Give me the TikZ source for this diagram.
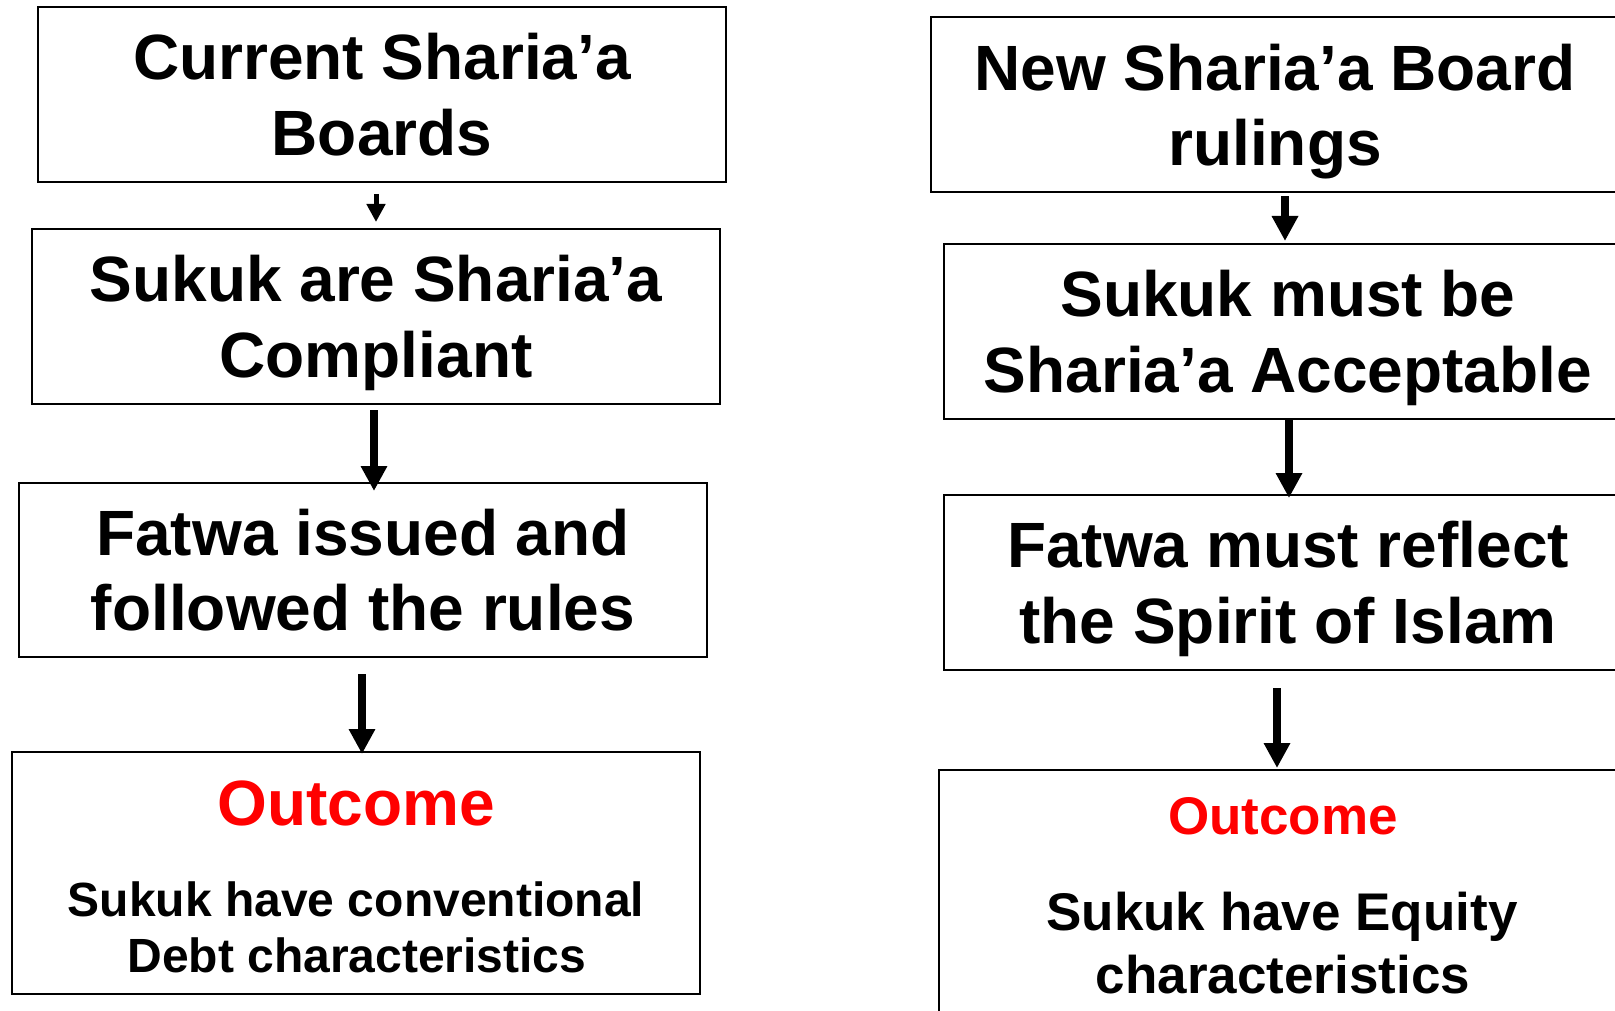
\documentclass[tikz,border=0pt]{standalone}
\usepackage{fontspec}
\setmainfont{Liberation Sans}
\usetikzlibrary{arrows.meta,calc}
\definecolor{outred}{RGB}{255,0,0}
\tikzset{
  box/.style={draw=black, line width=2pt, rectangle, minimum width=688pt, inner sep=0pt,
              align=center, text depth=0pt, font=\fontsize{64}{75.5}\selectfont\bfseries},
  arr/.style={line width=7.5pt, -{Triangle[width=25pt,length=25pt]}},
  thinarr/.style={line width=5pt, -{Triangle[width=18pt,length=18pt]}},
  outl/.style={anchor=base, inner sep=0pt, text=outred, font=\bfseries},
  desc/.style={anchor=base, inner sep=0pt, font=\bfseries}
}
\begin{document}
\begin{tikzpicture}[x=1pt,y=-1pt]
\useasboundingbox (0,0) rectangle (1615,1011);
\clip (0,0) rectangle (1615,1011);
\fill[white] (0,0) rectangle (1615,1011);

% left column
\node[box, minimum height=175pt] (b1) at (382,94.5) {Current Sharia’a\\Boards};
\node[box, minimum height=175pt] (b2) at (376,316.5) {Sukuk are Sharia’a\\Compliant};
\node[box, minimum height=174pt] (b3) at (363,570) {Fatwa issued and\\followed the rules};
\node[box, minimum height=242pt] (b4) at (356,873) {};
\node[outl, font=\fontsize{64}{64}\selectfont\bfseries] (b4o) at (356,825) {Outcome};
\node[desc, font=\fontsize{48}{48}\selectfont\bfseries] (b4a) at (356,916) {Sukuk have conventional};
\node[desc, font=\fontsize{48}{48}\selectfont\bfseries] (b4b) at (357,972) {Debt characteristics};

\draw[thinarr] ($(b1.south)+(-6,11)$) -- ($(b2.north)+(0,-6)$);
\draw[arr] ($(b2.south)+(-2,5)$) -- ($(b3.north)+(11,9)$);
\draw[arr] ($(b3.south)+(-1,16)$) -- ($(b4.north)+(6,3)$);

% right column
\node[box, minimum height=175pt] (r1) at (1275,105) {New Sharia’a Board\\rulings};
\node[box, minimum height=175pt] (r2) at (1288,331.5) {Sukuk must be\\Sharia’a Acceptable};
\node[box, minimum height=175pt] (r3) at (1288,582.5) {Fatwa must reflect\\the Spirit of Islam};
\node[box, minimum height=280pt] (r4) at (1283,910) {};
\node[outl, font=\fontsize{53}{53}\selectfont\bfseries] (r4o) at (1283,834) {Outcome};
\node[desc, font=\fontsize{53}{53}\selectfont\bfseries] (r4a) at (1282,930) {Sukuk have Equity};
\node[desc, font=\fontsize{53}{53}\selectfont\bfseries] (r4b) at (1283,993) {characteristics};

\draw[arr] ($(r1.south)+(10,3)$) -- ($(r2.north)+(-3,-2)$);
\draw[arr] ($(r2.south)+(1,-2)$) -- ($(r3.north)+(1,4)$);
\draw[arr] ($(r3.south)+(-11,17)$) -- ($(r4.north)+(-6,-1)$);
\end{tikzpicture}
\end{document}
